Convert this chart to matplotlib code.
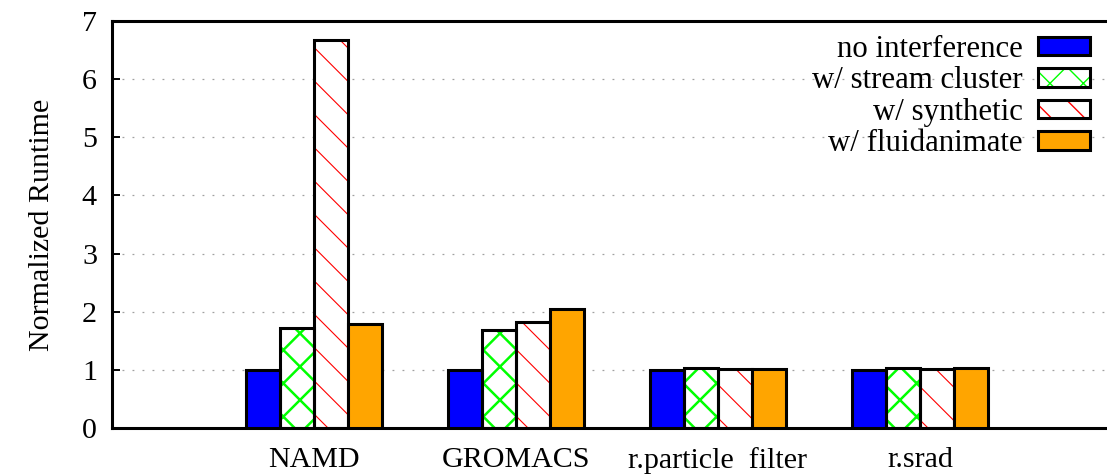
''' normalized runtime with interference '''
import matplotlib
matplotlib.use('Agg')
import matplotlib.pyplot as plt
from matplotlib.patches import Patch
import numpy as np

benchmarks = ['NAMD', 'GROMACS', 'r.particle  filter', 'r.srad']
series = ['no interference', 'w/ stream cluster', 'w/ synthetic', 'w/ fluidanimate']
no_interference = [1.0, 1.0, 1.0, 1.0]
stream_cluster = [1.72, 1.69, 1.03, 1.04]
synthetic = [6.67, 1.83, 1.02, 1.01]
fluidanimate = [1.79, 2.05, 1.02, 1.04]
yticks = [0, 1, 2, 3, 4, 5, 6, 7]

# (facecolor, hatch, hatch colour, hatch linewidth)
estilos = [
    ('#0000ff', None, None, 0),
    ('white', 'x', '#00ff00', 1.8),
    ('white', '\\', '#ff0000', 0.8),
    ('#ffa500', None, None, 0),
]

DPI = 100
FS = 21.6


def hatch_lw(patches, lw):
    for p in patches:
        if hasattr(p, 'set_hatch_linewidth'):
            p.set_hatch_linewidth(lw)


def main():
    plt.rcParams['font.family'] = ['Liberation Serif', 'DejaVu Serif']
    fig = plt.figure(figsize=(1107 / DPI, 476 / DPI), dpi=DPI)
    ax = fig.add_axes([112 / 1107, 48 / 476, 1010 / 1107, 407 / 476])

    valores = [no_interference, stream_cluster, synthetic, fluidanimate]
    x = np.arange(len(benchmarks))
    w = 0.168
    handles = []
    for i, (vals, (face, hatch, hcol, hlw)) in enumerate(zip(valores, estilos)):
        pos = x + (i - 1.5) * w
        if hatch:
            with plt.rc_context({'hatch.linewidth': hlw}):
                under = ax.bar(pos, vals, w, color='white', edgecolor=hcol,
                               hatch=hatch, linewidth=0, zorder=2)
                hatch_lw(under, hlw)
                proxy = Patch(facecolor='white', edgecolor=hcol, hatch=hatch, linewidth=0)
                hatch_lw([proxy], hlw)
            ax.bar(pos, vals, w, facecolor='none', edgecolor='black',
                   linewidth=2.2, zorder=3)
            handles.append((proxy, Patch(facecolor='none', edgecolor='black', linewidth=2.2)))
        else:
            ax.bar(pos, vals, w, facecolor=face, edgecolor='black',
                   linewidth=2.2, zorder=3)
            handles.append(Patch(facecolor=face, edgecolor='black', linewidth=2.2))

    ax.set_xlim(-1, 4)
    ax.set_ylim(0, 7)
    ax.set_yticks(yticks)
    ax.set_xticks(x)
    ax.set_xticklabels(benchmarks)
    ax.tick_params(axis='y', direction='in', length=5.4, width=1.4, labelsize=FS, pad=10.8)
    ax.tick_params(axis='x', length=0, labelsize=FS, pad=14)
    ax.set_ylabel('Normalized Runtime', fontsize=FS, labelpad=19)
    for s in ax.spines.values():
        s.set_linewidth(2.2)
    ax.spines['right'].set_visible(False)

    for y in yticks[1:-1]:
        ax.axhline(y, color='#a0a0a0', linewidth=0.9, linestyle=(0, (1.5, 6.5)), zorder=1)

    ax.legend(handles, series, loc='upper right', bbox_to_anchor=(1090 / 1107, 1 - 35 / 476),
              bbox_transform=fig.transFigure, frameon=False, markerfirst=False,
              fontsize=22.2, handlelength=1.68, handleheight=0.55, handletextpad=0.5,
              labelspacing=0.08, borderpad=0, borderaxespad=0)

    fig.savefig('out.png', dpi=DPI)


if __name__ == '__main__':
    main()
